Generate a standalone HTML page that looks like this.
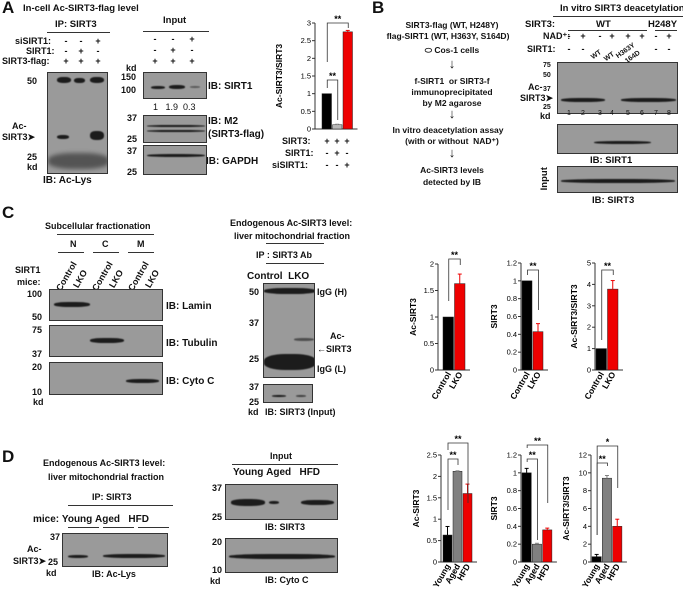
<!DOCTYPE html>
<html><head><meta charset="utf-8">
<style>
body{margin:0;width:683px;height:593px;background:#fff;position:relative;overflow:hidden;font-family:"Liberation Sans",Arial,sans-serif;font-weight:bold;color:#111}
.t{position:absolute;font-size:9px;white-space:nowrap;line-height:1}
.s{position:absolute;font-size:9px;line-height:1;transform:translateX(-50%)}
.L{position:absolute;font-size:17px;font-weight:bold}
.blot{position:absolute;background:#9a9a9a;border:1px solid #333;box-sizing:border-box;overflow:hidden}
.band{position:absolute;background:#1c1c1c;border-radius:40%;filter:blur(0.6px)}
.ul{position:absolute;border-top:1px solid #333}
svg{position:absolute;left:0;top:0}
</style></head><body>
<!-- Panel A -->
<div class="L" style="left:2px;top:-2px">A</div>
<div class="t" style="left:23px;top:4px;font-size:9.5px">In-cell Ac-SIRT3-flag level</div>
<div class="t" style="left:55px;top:20px;font-size:9.5px">IP: SIRT3</div>
<div class="ul" style="left:47px;top:32px;width:63px"></div>
<div class="t" style="left:15px;top:37px">siSIRT1:</div>
<div class="t" style="left:26px;top:47px">SIRT1:</div>
<div class="t" style="left:2px;top:57px">SIRT3-flag:</div>
<div class="s" style="left:66px;top:37px">-</div><div class="s" style="left:81px;top:37px">-</div><div class="s" style="left:98px;top:37px">+</div>
<div class="s" style="left:66px;top:47px">-</div><div class="s" style="left:81px;top:47px">+</div><div class="s" style="left:98px;top:47px">-</div>
<div class="s" style="left:66px;top:57px">+</div><div class="s" style="left:81px;top:57px">+</div><div class="s" style="left:98px;top:57px">+</div>
<div class="blot" style="left:47px;top:72px;width:61px;height:102px">
<div class="band" style="left:9px;top:4px;width:14px;height:6px"></div><div class="band" style="left:26px;top:5px;width:11px;height:5px"></div><div class="band" style="left:42px;top:4px;width:14px;height:6px"></div>
<div class="band" style="left:9px;top:62px;width:12px;height:4px"></div><div class="band" style="left:42px;top:58px;width:14px;height:9px"></div>
<div class="band" style="left:0;top:80px;width:61px;height:16px;opacity:.55;filter:blur(2px)"></div></div>
<div class="t" style="left:27px;top:77px">50</div><div class="t" style="left:27px;top:153px">25</div><div class="t" style="left:27px;top:163px">kd</div>
<div class="t" style="left:12px;top:122px">Ac-</div><div class="t" style="left:2px;top:133px">SIRT3➤</div>
<div class="t" style="left:43px;top:176px;font-size:10px">IB: Ac-Lys</div>
<div class="t" style="left:163px;top:16px;font-size:9.5px">Input</div><div class="ul" style="left:143px;top:31px;width:66px"></div>
<div class="s" style="left:155px;top:35px">-</div><div class="s" style="left:173px;top:35px">-</div><div class="s" style="left:192px;top:35px">+</div>
<div class="s" style="left:155px;top:46px">-</div><div class="s" style="left:173px;top:46px">+</div><div class="s" style="left:192px;top:46px">-</div>
<div class="s" style="left:155px;top:57px">+</div><div class="s" style="left:173px;top:57px">+</div><div class="s" style="left:192px;top:57px">+</div>
<div class="t" style="left:126px;top:64px">kd</div>
<div class="blot" style="left:143px;top:72px;width:64px;height:27px"><div class="band" style="left:7px;top:13px;width:14px;height:3px"></div><div class="band" style="left:25px;top:12px;width:16px;height:4px"></div><div class="band" style="left:46px;top:13px;width:10px;height:2px;opacity:.5"></div></div>
<div class="t" style="left:121px;top:73px">150</div><div class="t" style="left:121px;top:86px">100</div>
<div class="t" style="left:208px;top:82px;font-size:10px">IB: SIRT1</div>
<div class="t" style="left:153px;top:103px;font-weight:normal">1&nbsp;&nbsp;&nbsp;1.9&nbsp;&nbsp;0.3</div>
<div class="blot" style="left:143px;top:115px;width:64px;height:28px"><div class="band" style="left:3px;top:9px;width:58px;height:2px"></div><div class="band" style="left:3px;top:14px;width:58px;height:2px"></div></div>
<div class="t" style="left:127px;top:114px">37</div><div class="t" style="left:127px;top:135px">25</div>
<div class="t" style="left:208px;top:117px;font-size:10px">IB: M2</div><div class="t" style="left:208px;top:130px;font-size:10px">(SIRT3-flag)</div>
<div class="blot" style="left:143px;top:145px;width:64px;height:30px"><div class="band" style="left:3px;top:8px;width:58px;height:3px"></div></div>
<div class="t" style="left:127px;top:147px">37</div><div class="t" style="left:127px;top:168px">25</div>
<div class="t" style="left:206px;top:157px;font-size:10px">IB: GAPDH</div>
<div class="t" style="left:282px;top:137px">SIRT3:</div>
<div class="s" style="left:327px;top:137px">+</div><div class="s" style="left:337px;top:137px">+</div><div class="s" style="left:347px;top:137px">+</div>
<div class="t" style="left:285px;top:149px">SIRT1:</div>
<div class="s" style="left:327px;top:149px">-</div><div class="s" style="left:337px;top:149px">+</div><div class="s" style="left:347px;top:149px">-</div>
<div class="t" style="left:272px;top:161px">siSIRT1:</div>
<div class="s" style="left:327px;top:161px">-</div><div class="s" style="left:337px;top:161px">-</div><div class="s" style="left:347px;top:161px">+</div>
<!-- Panel B -->
<div class="L" style="left:372px;top:-2px">B</div>
<div style="position:absolute;left:370px;top:0;width:164px;text-align:center;font-size:8.5px;line-height:1">
<div style="position:absolute;left:0;width:164px;top:21px">SIRT3-flag (WT, H248Y)</div>
<div style="position:absolute;left:-4px;width:164px;top:32px">flag-SIRT1 (WT, H363Y, S164D)</div>
<div style="position:absolute;left:0;width:164px;top:46px">⬭&nbsp;Cos-1 cells</div>
<div style="position:absolute;left:0;width:164px;top:57px;font-size:13px">↓</div>
<div style="position:absolute;left:0;width:164px;top:77px">f-SIRT1&nbsp;&nbsp;or SIRT3-f</div>
<div style="position:absolute;left:0;width:164px;top:88px">immunoprecipitated</div>
<div style="position:absolute;left:0;width:164px;top:99px">by M2 agarose</div>
<div style="position:absolute;left:0;width:164px;top:107px;font-size:13px">↓</div>
<div style="position:absolute;left:-4px;width:164px;top:126px">In vitro deacetylation assay</div>
<div style="position:absolute;left:0;width:164px;top:137px">(with or without&nbsp;&nbsp;NAD⁺)</div>
<div style="position:absolute;left:0;width:164px;top:146px;font-size:13px">↓</div>
<div style="position:absolute;left:0;width:164px;top:166px">Ac-SIRT3 levels</div>
<div style="position:absolute;left:0;width:164px;top:178px">detected by IB</div>
</div>
<div class="t" style="left:560px;top:4px;font-size:9.5px">In vitro SIRT3 deacetylation</div>
<div class="ul" style="left:553px;top:16px;width:130px"></div>
<div class="t" style="left:525px;top:20px;font-size:9.5px">SIRT3:</div><div class="t" style="left:596px;top:20px;font-size:9.5px">WT</div><div class="t" style="left:648px;top:20px;font-size:9.5px">H248Y</div>
<div class="ul" style="left:568px;top:30px;width:79px"></div><div class="ul" style="left:655px;top:30px;width:22px"></div>
<div class="t" style="left:543px;top:32px">NAD⁺:</div>
<div class="s" style="left:569px;top:32px">-</div><div class="s" style="left:583px;top:32px">+</div><div class="s" style="left:600px;top:32px">-</div><div class="s" style="left:612px;top:32px">+</div><div class="s" style="left:628px;top:32px">+</div><div class="s" style="left:642px;top:32px">+</div><div class="s" style="left:656px;top:32px">-</div><div class="s" style="left:669px;top:32px">+</div>
<div class="t" style="left:527px;top:45px">SIRT1:</div>
<div class="s" style="left:569px;top:45px">-</div><div class="s" style="left:583px;top:45px">-</div><div class="s" style="left:656px;top:45px">-</div><div class="s" style="left:669px;top:45px">-</div>
<div class="t" style="left:594px;top:54px;font-size:7px;transform:rotate(-35deg);transform-origin:0 100%">WT</div>
<div class="t" style="left:607px;top:56px;font-size:7px;transform:rotate(-35deg);transform-origin:0 100%">WT</div>
<div class="t" style="left:619px;top:53px;font-size:7px;transform:rotate(-35deg);transform-origin:0 100%">H363Y</div>
<div class="t" style="left:628px;top:58px;font-size:7px;transform:rotate(-35deg);transform-origin:0 100%">164D</div>
<div class="blot" style="left:557px;top:62px;width:121px;height:52px"><div class="band" style="left:3px;top:35px;width:44px;height:4px"></div><div class="band" style="left:63px;top:35px;width:55px;height:4px"></div></div>
<div class="t" style="left:543px;top:62px;font-size:7px">75</div><div class="t" style="left:543px;top:72px;font-size:7px">50</div><div class="t" style="left:543px;top:86px;font-size:7px">37</div><div class="t" style="left:543px;top:104px;font-size:7px">25</div><div class="t" style="left:540px;top:112px">kd</div>
<div class="t" style="left:528px;top:83px">Ac-</div><div class="t" style="left:520px;top:94px">SIRT3➤</div>
<div class="s" style="left:569px;top:110px;font-size:7px;font-weight:normal">1</div><div class="s" style="left:583px;top:110px;font-size:7px;font-weight:normal">2</div><div class="s" style="left:600px;top:110px;font-size:7px;font-weight:normal">3</div><div class="s" style="left:612px;top:110px;font-size:7px;font-weight:normal">4</div><div class="s" style="left:628px;top:110px;font-size:7px;font-weight:normal">5</div><div class="s" style="left:642px;top:110px;font-size:7px;font-weight:normal">6</div><div class="s" style="left:656px;top:110px;font-size:7px;font-weight:normal">7</div><div class="s" style="left:669px;top:110px;font-size:7px;font-weight:normal">8</div>
<div class="blot" style="left:557px;top:124px;width:121px;height:30px"><div class="band" style="left:36px;top:16px;width:57px;height:3px"></div></div>
<div class="t" style="left:590px;top:156px;font-size:9.5px">IB: SIRT1</div>
<div class="t" style="left:533px;top:174px;transform:rotate(-90deg);font-size:9.5px">Input</div>
<div class="blot" style="left:557px;top:166px;width:121px;height:27px"><div class="band" style="left:3px;top:12px;width:114px;height:4px"></div></div>
<div class="t" style="left:592px;top:196px;font-size:9.5px">IB: SIRT3</div>
<!-- Panel C -->
<div class="L" style="left:2px;top:203px">C</div>
<div class="t" style="left:45px;top:222px">Subcellular fractionation</div><div class="ul" style="left:57px;top:234px;width:97px"></div>
<div class="t" style="left:70px;top:240px">N</div><div class="t" style="left:102px;top:240px">C</div><div class="t" style="left:137px;top:240px">M</div>
<div class="ul" style="left:58px;top:252px;width:26px"></div><div class="ul" style="left:93px;top:252px;width:26px"></div><div class="ul" style="left:128px;top:252px;width:26px"></div>
<div class="t" style="left:15px;top:266px">SIRT1</div><div class="t" style="left:17px;top:278px">mice:</div>
<div class="t" style="left:55px;top:288px;transform:rotate(-60deg);transform-origin:0 0">Control</div><div class="t" style="left:72px;top:285px;transform:rotate(-60deg);transform-origin:0 0">LKO</div>
<div class="t" style="left:91px;top:288px;transform:rotate(-60deg);transform-origin:0 0">Control</div><div class="t" style="left:108px;top:285px;transform:rotate(-60deg);transform-origin:0 0">LKO</div>
<div class="t" style="left:127px;top:288px;transform:rotate(-60deg);transform-origin:0 0">Control</div><div class="t" style="left:144px;top:285px;transform:rotate(-60deg);transform-origin:0 0">LKO</div>
<div class="blot" style="left:49px;top:289px;width:114px;height:32px"><div class="band" style="left:4px;top:12px;width:36px;height:5px"></div></div>
<div class="t" style="left:27px;top:290px">100</div><div class="t" style="left:32px;top:313px">50</div><div class="t" style="left:166px;top:302px;font-size:10px">IB: Lamin</div>
<div class="blot" style="left:49px;top:325px;width:114px;height:32px"><div class="band" style="left:40px;top:12px;width:34px;height:5px"></div></div>
<div class="t" style="left:32px;top:326px">75</div><div class="t" style="left:32px;top:350px">37</div><div class="t" style="left:166px;top:339px;font-size:10px">IB: Tubulin</div>
<div class="blot" style="left:49px;top:362px;width:114px;height:33px"><div class="band" style="left:76px;top:16px;width:33px;height:4px"></div></div>
<div class="t" style="left:32px;top:363px">20</div><div class="t" style="left:32px;top:388px">10</div><div class="t" style="left:33px;top:398px">kd</div><div class="t" style="left:166px;top:377px;font-size:10px">IB: Cyto C</div>
<div class="t" style="left:230px;top:219px">Endogenous Ac-SIRT3 level:</div><div class="t" style="left:234px;top:232px">liver mitochondrial fraction</div>
<div class="ul" style="left:266px;top:243px;width:58px"></div>
<div class="t" style="left:256px;top:251px">IP : SIRT3 Ab</div><div class="ul" style="left:266px;top:263px;width:58px"></div>
<div class="t" style="left:247px;top:272px;font-size:10px">Control&nbsp;&nbsp;LKO</div>
<div class="blot" style="left:263px;top:283px;width:52px;height:95px"><div class="band" style="left:0;top:4px;width:52px;height:6px"></div><div class="band" style="left:30px;top:54px;width:20px;height:3px;opacity:.6"></div><div class="band" style="left:0;top:70px;width:52px;height:16px"></div></div>
<div class="t" style="left:249px;top:288px">50</div><div class="t" style="left:249px;top:319px">37</div><div class="t" style="left:249px;top:355px">25</div>
<div class="t" style="left:317px;top:288px">IgG (H)</div><div class="t" style="left:330px;top:332px">Ac-</div><div class="t" style="left:317px;top:345px">←SIRT3</div><div class="t" style="left:317px;top:365px">IgG (L)</div>
<div class="blot" style="left:263px;top:384px;width:50px;height:19px"><div class="band" style="left:8px;top:10px;width:14px;height:2px"></div><div class="band" style="left:32px;top:10px;width:10px;height:2px;opacity:.7"></div></div>
<div class="t" style="left:249px;top:383px">37</div><div class="t" style="left:249px;top:398px">25</div><div class="t" style="left:248px;top:408px">kd</div>
<div class="t" style="left:265px;top:408px">IB: SIRT3 (Input)</div>
<!-- Panel D -->
<div class="L" style="left:2px;top:447px">D</div>
<div class="t" style="left:43px;top:459px">Endogenous Ac-SIRT3 level:</div><div class="t" style="left:48px;top:473px">liver mitochondrial fraction</div>
<div class="t" style="left:92px;top:493px">IP: SIRT3</div><div class="ul" style="left:68px;top:505px;width:105px"></div>
<div class="t" style="left:33px;top:515px;font-size:10px">mice:&nbsp;Young&nbsp;Aged&nbsp;&nbsp;&nbsp;HFD</div>
<div class="ul" style="left:68px;top:527px;width:31px"></div><div class="ul" style="left:103px;top:527px;width:31px"></div><div class="ul" style="left:138px;top:527px;width:31px"></div>
<div class="blot" style="left:62px;top:533px;width:106px;height:34px"><div class="band" style="left:5px;top:21px;width:20px;height:3px"></div><div class="band" style="left:40px;top:20px;width:62px;height:4px"></div></div>
<div class="t" style="left:50px;top:533px">37</div><div class="t" style="left:48px;top:558px">25</div><div class="t" style="left:46px;top:569px">kd</div>
<div class="t" style="left:27px;top:545px">Ac-</div><div class="t" style="left:13px;top:557px">SIRT3➤</div>
<div class="t" style="left:92px;top:570px">IB: Ac-Lys</div>
<div class="t" style="left:270px;top:452px">Input</div><div class="ul" style="left:232px;top:464px;width:106px"></div>
<div class="t" style="left:233px;top:468px;font-size:10px">Young&nbsp;Aged&nbsp;&nbsp;&nbsp;HFD</div>
<div class="blot" style="left:225px;top:484px;width:113px;height:36px"><div class="band" style="left:5px;top:14px;width:34px;height:7px"></div><div class="band" style="left:43px;top:16px;width:10px;height:3px"></div><div class="band" style="left:75px;top:15px;width:33px;height:5px"></div></div>
<div class="t" style="left:212px;top:484px">37</div><div class="t" style="left:212px;top:513px">25</div>
<div class="t" style="left:265px;top:523px">IB: SIRT3</div>
<div class="blot" style="left:225px;top:538px;width:113px;height:35px"><div class="band" style="left:3px;top:15px;width:106px;height:5px"></div></div>
<div class="t" style="left:212px;top:538px">20</div><div class="t" style="left:212px;top:566px">10</div><div class="t" style="left:210px;top:577px">kd</div>
<div class="t" style="left:265px;top:576px">IB: Cyto C</div>

<svg id="charts" width="683" height="593"></svg>
<script>
const catsA=["sirt3","sirt1","sisirt1"];const valsA=[1,0.12,2.75];const errA=[0,0.02,0.04];const ticksA=[0,0.5,1,1.5,2,2.5,3];
const catsC=["Control","LKO"];
const valsC1=[1,1.63];const errC1=[0,0.18];const ticksC1=[0,0.5,1,1.5,2];
const valsC2=[1,0.43];const errC2=[0,0.09];const ticksC2=[0,0.2,0.4,0.6,0.8,1,1.2];
const valsC3=[1,3.78];const errC3=[0,0.4];const ticksC3=[0,1,2,3,4,5];
const catsD=["Young","Aged","HFD"];
const valsD1=[0.63,2.12,1.6];const errD1=[0.2,0.01,0.22];const ticksD1=[0,0.5,1,1.5,2,2.5];
const valsD2=[1,0.2,0.36];const errD2=[0.05,0.01,0.02];const ticksD2=[0,0.2,0.4,0.6,0.8,1,1.2];
const valsD3=[0.6,9.4,4];const errD3=[0.25,0.3,0.8];const ticksD3=[0,2,4,6,8,10,12];
const svg=document.getElementById('charts');const NS='http://www.w3.org/2000/svg';
function mk(tag,a,txt){const e=document.createElementNS(NS,tag);for(const k in a)e.setAttribute(k,a[k]);if(txt!==undefined)e.textContent=txt;svg.appendChild(e);return e;}
function chart(o){
 const max=o.ticks[o.ticks.length-1];const off=o.off||1;
 const y=v=>o.y0-(v/max)*(o.y0-o.yt);
 const x=i=>o.x0+off+i*o.bw;
 const ax=mk('line',{x1:o.x0,y1:o.yt,x2:o.x0,y2:o.y0,stroke:'#333','stroke-width':1});
 
 mk('line',{x1:o.x0,y1:o.y0,x2:o.x0+off+o.bw*o.vals.length+4,y2:o.y0,stroke:'#333'});
 o.ticks.forEach(t=>{mk('line',{x1:o.x0-3,y1:y(t),x2:o.x0,y2:y(t),stroke:'#333'});
  const tl=mk('text',{x:o.x0-4,y:y(t)+2.5,'font-size':7.5,'text-anchor':'end','font-family':'Liberation Sans','font-weight':'normal'},String(t));
  });
 const yt=mk('text',{x:0,y:0,'font-size':8.5,'text-anchor':'middle','font-family':'Liberation Sans','font-weight':'bold',transform:`translate(${o.x0-o.tOff},${(o.yt+o.y0)/2}) rotate(-90)`},o.title);
 
 o.vals.forEach((v,i)=>{
  const b=mk('rect',{x:x(i),y:y(v),width:o.bw-1,height:o.y0-y(v),fill:o.colors[i],stroke:'#222','stroke-width':0.5});
  
  const cx=x(i)+(o.bw-1)/2;
  if(o.errs[i]>0){mk('line',{x1:cx,y1:y(v),x2:cx,y2:y(v+o.errs[i]),stroke:o.colors[i],'stroke-width':1});
   mk('line',{x1:cx-2,y1:y(v+o.errs[i]),x2:cx+2,y2:y(v+o.errs[i]),stroke:o.colors[i],'stroke-width':1});}
  if(o.rot){const l=mk('text',{x:0,y:0,'font-size':8.5,'text-anchor':'end','font-family':'Liberation Sans','font-weight':'bold',transform:`translate(${cx+3},${o.y0+4}) rotate(-60)`},o.cats[i]);
   }
 });
 (o.sig||[]).forEach(s=>{const x1=x(s[0])+o.bw/2,x2=x(s[1])+o.bw/2,top=s[2];
  mk('polyline',{points:`${x1},${s[3]} ${x1},${top} ${x2},${top} ${x2},${s[4]}`,fill:'none',stroke:'#333','stroke-width':0.8});
  mk('text',{x:(x1+x2)/2,y:top-1,'font-size':9,'text-anchor':'middle','font-family':'Liberation Sans','font-weight':'bold'},s[5]);});
}
chart({x0:315,off:7,yt:23,y0:129,bw:10.5,vals:valsA,errs:errA,ticks:ticksA,cats:catsA,colors:['#000','#b8b8b8','#ee0000'],title:'Ac-SIRT3/SIRT3',tOff:33,
 sig:[[0,2,23,62,28,'**'],[0,1,80,88,120,'**']]});
chart({x0:438,off:5,yt:264,y0:370,bw:11.5,vals:valsC1,errs:errC1,ticks:ticksC1,cats:catsC,colors:['#000','#ee0000'],title:'Ac-SIRT3',tOff:22,rot:1,sig:[[0,1,259,301,265,'**']]});
chart({x0:521,yt:263,y0:370,bw:11,vals:valsC2,errs:errC2,ticks:ticksC2,cats:catsC,colors:['#000','#ee0000'],title:'SIRT3',tOff:24,rot:1,sig:[[0,1,270,275,310,'**']]});
chart({x0:595,yt:263,y0:370,bw:11.5,vals:valsC3,errs:errC3,ticks:ticksC3,cats:catsC,colors:['#000','#ee0000'],title:'Ac-SIRT3/SIRT3',tOff:18,rot:1,sig:[[0,1,270,340,275,'**']]});
chart({x0:441,off:2,yt:455,y0:562,bw:10,vals:valsD1,errs:errD1,ticks:ticksD1,cats:catsD,colors:['#000','#808080','#ee0000'],title:'Ac-SIRT3',tOff:22,rot:1,sig:[[0,1,459,510,465,'**'],[0,2,443,450,503,'**']]});
chart({x0:521,yt:455,y0:562,bw:10.3,vals:valsD2,errs:errD2,ticks:ticksD2,cats:catsD,colors:['#000','#808080','#ee0000'],title:'SIRT3',tOff:24,rot:1,sig:[[0,1,459,462,540,'**'],[0,2,445,448,503,'**']]});
chart({x0:591,yt:455,y0:562,bw:10.3,vals:valsD3,errs:errD3,ticks:ticksD3,cats:catsD,colors:['#000','#808080','#ee0000'],title:'Ac-SIRT3/SIRT3',tOff:22,rot:1,sig:[[0,1,463,535,466,'**'],[0,2,446,535,488,'*']]});
</script>
</body></html>
